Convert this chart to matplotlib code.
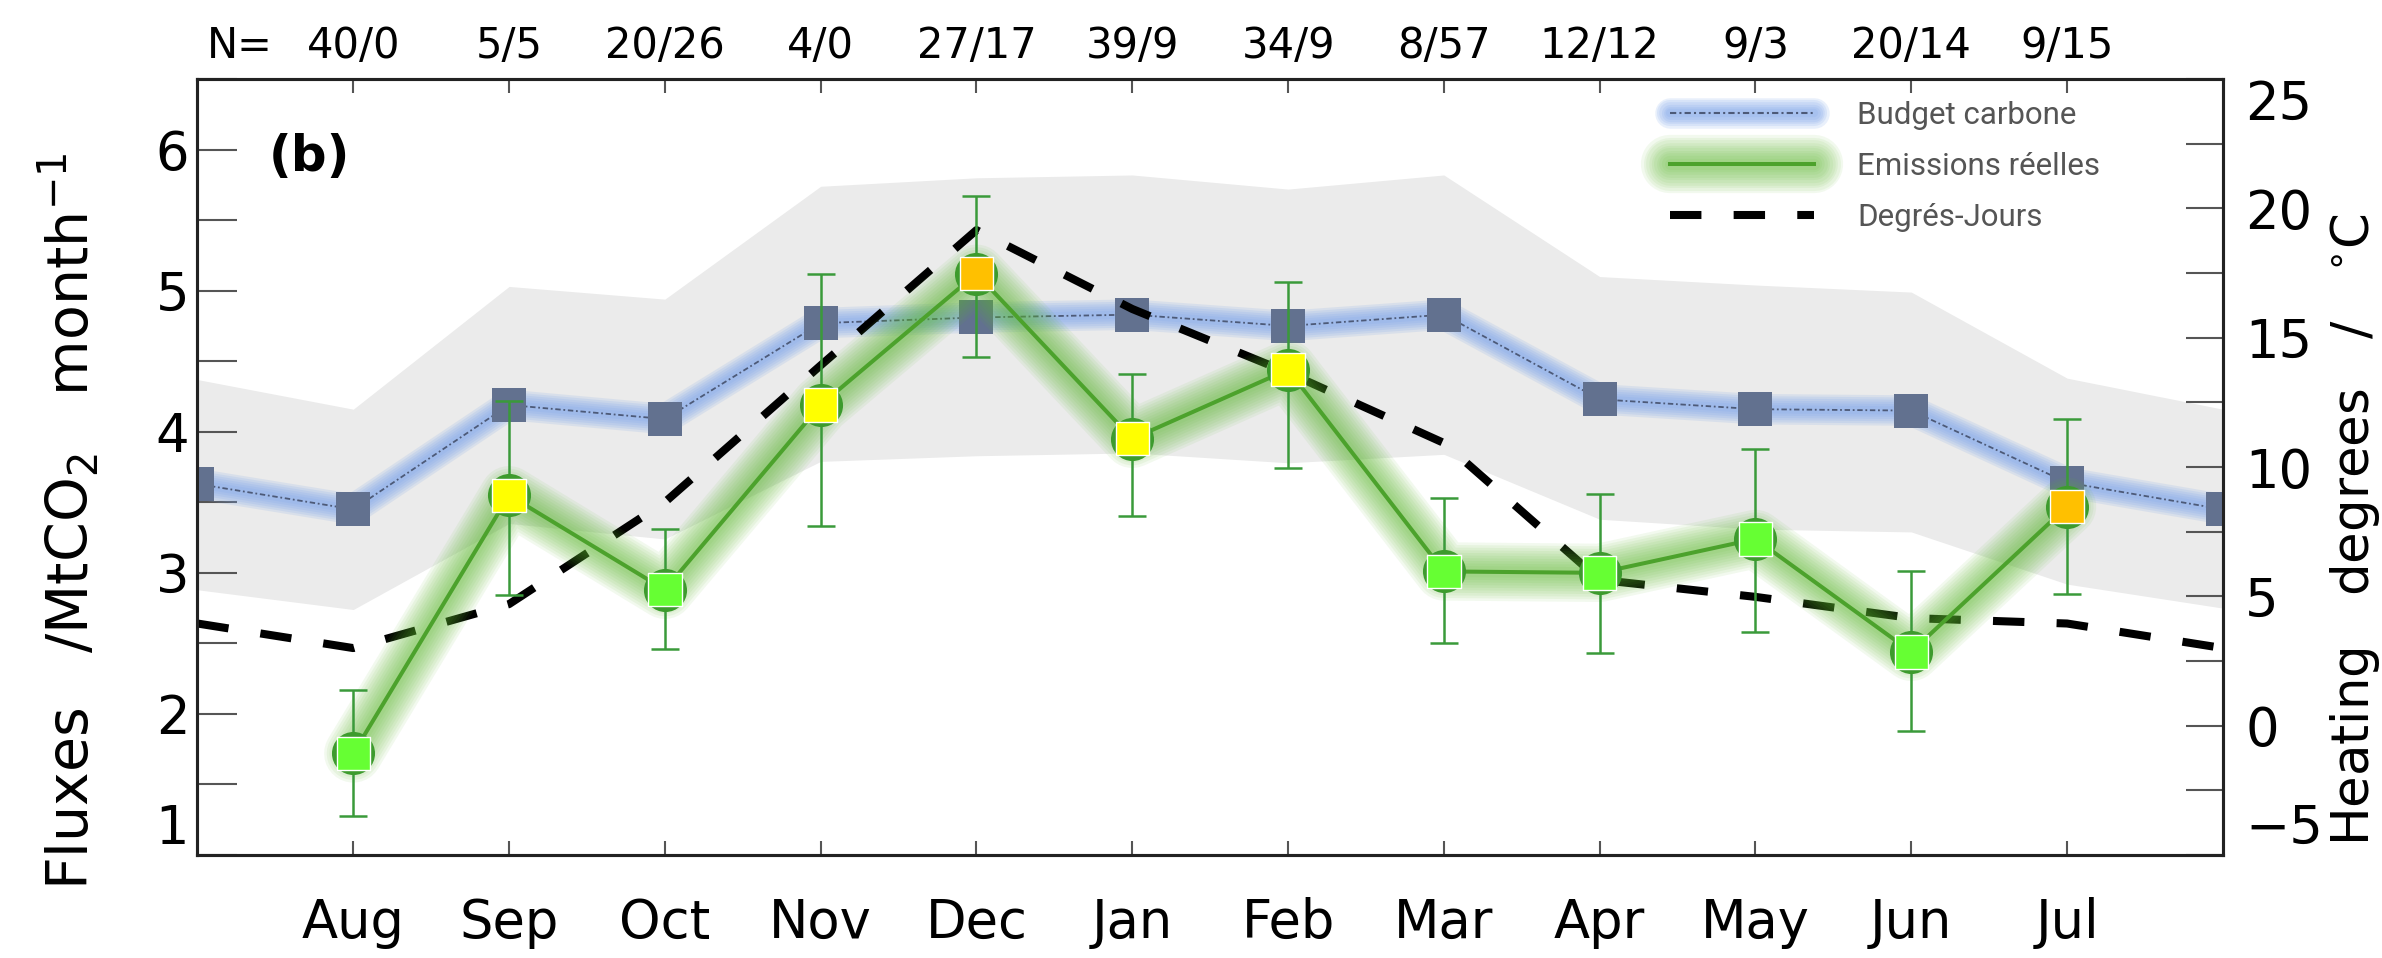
import numpy as np
import matplotlib
matplotlib.use("Agg")
import matplotlib.pyplot as plt
import matplotlib.transforms as mtransforms
from matplotlib.lines import Line2D
from matplotlib.legend_handler import HandlerTuple
from matplotlib.ticker import MultipleLocator

# -----------------------------
# Data
# -----------------------------
months = ["Aug", "Sep", "Oct", "Nov", "Dec", "Jan", "Feb", "Mar", "Apr", "May", "Jun", "Jul"]
n_counts = ["40/0", "5/5", "20/26", "4/0", "27/17", "39/9", "34/9", "8/57", "12/12", "9/3", "20/14", "9/15"]

# budget / band / degree-days include the wrap-around months at both ends (Jul, Aug..Jul, Aug)
budget = [3.63, 3.45, 4.19, 4.09, 4.77, 4.81, 4.83, 4.75, 4.83, 4.23, 4.16, 4.15, 3.64, 3.45]
budget_hi = [4.37, 4.16, 5.03, 4.94, 5.74, 5.80, 5.82, 5.72, 5.82, 5.10, 5.04, 4.99, 4.38, 4.16]
budget_lo = [2.88, 2.74, 3.35, 3.24, 3.79, 3.83, 3.85, 3.78, 3.84, 3.38, 3.31, 3.29, 2.92, 2.75]
degree_days = [3.95, 3.0, 4.7, 8.64, 13.93, 19.16, 16.11, 13.65, 10.93, 5.64, 4.98, 4.16, 3.95, 3.0]

emissions = [1.72, 3.55, 2.88, 4.19, 5.12, 3.95, 4.44, 3.01, 3.00, 3.24, 2.44, 3.47]
emis_hi = [2.17, 4.22, 3.31, 5.12, 5.67, 4.41, 5.06, 3.53, 3.56, 3.88, 3.01, 4.09]
emis_lo = [1.28, 2.84, 2.46, 3.33, 4.53, 3.40, 3.74, 2.50, 2.43, 2.58, 1.88, 2.85]
square_colors = ["#66ff33", "#ffff00", "#66ff33", "#ffff00", "#ffc000", "#ffff00",
                 "#ffff00", "#66ff33", "#66ff33", "#66ff33", "#66ff33", "#ffc000"]

BLUE_GLOW = "#7aa3ea"
GREEN_GLOW = "#5cb82e"
GREEN_LINE = "#4ca22c"
DD_DASH = (3.9, 4.0)
BLUE_W, BLUE_A = np.linspace(22, 6, 6), 0.16
GREEN_W, GREEN_A = np.linspace(42, 8, 10), 0.08


def glow_lines(widths, alpha, color):
    return [Line2D([], [], color=color, lw=w, alpha=alpha,
                   solid_capstyle="round", solid_joinstyle="round")
            for w in widths]


def draw_glow(ax, x, y, widths, alpha, color, z):
    for w in widths:
        ax.plot(x, y, color=color, lw=w, alpha=alpha, solid_capstyle="round",
                solid_joinstyle="round", zorder=z)


x_full = np.arange(len(budget))
x_m = np.arange(1, len(months) + 1)
emissions = np.array(emissions)
yerr = [emissions - np.array(emis_lo), np.array(emis_hi) - emissions]

fig = plt.figure(figsize=(23.82, 9.58), dpi=100)
ax = fig.add_axes([0.0829, 0.1075, 0.8503, 0.81])
ax2 = ax.twinx()

# gray uncertainty band
ax.fill_between(x_full, budget_lo, budget_hi, color="#ebebeb", lw=0, zorder=1)

# budget carbone
draw_glow(ax, x_full, budget, BLUE_W, BLUE_A, BLUE_GLOW, 2)
ax.plot(x_full, budget, color="#4d5a78", lw=1.3, ls=(0, (3, 1.5, 1, 1.5)), zorder=3)
ax.plot(x_full, budget, ls="none", marker="s", ms=24, color="#62718f", mew=0, zorder=4)

# degree days on the right-hand scale
dd_trans = mtransforms.blended_transform_factory(ax.transData, ax2.transData)
ax.plot(x_full, degree_days, color="black", lw=5.8, dashes=DD_DASH,
        dash_capstyle="butt", transform=dd_trans, zorder=5)

# emissions
draw_glow(ax, x_m, emissions, GREEN_W, GREEN_A, GREEN_GLOW, 6)
ax.plot(x_m, emissions, color=GREEN_LINE, lw=2.9, zorder=7)
ax.errorbar(x_m, emissions, yerr=yerr, fmt="none", ecolor="#3a9a3a",
            elinewidth=1.8, capsize=10, capthick=1.8, zorder=8)
ax.plot(x_m, emissions, ls="none", marker="o", ms=31, color="#3d9b2d", mew=0, zorder=9)
ax.scatter(x_m, emissions, marker="s", s=24 ** 2, c=square_colors,
           edgecolors="white", linewidths=1.0, zorder=10)

# axes ranges / ticks
ax.set_xlim(0, 13)
ax.set_ylim(1, 6.5)
ax2.set_ylim(-5, 25)
ax.set_xticks(x_m)
ax.set_xticklabels(months)
ax.set_yticks([1, 2, 3, 4, 5, 6])
ax.yaxis.set_minor_locator(MultipleLocator(0.5))
ax2.set_yticks([-5, 0, 5, 10, 15, 20, 25])
ax2.yaxis.set_minor_locator(MultipleLocator(2.5))

ax.tick_params(axis="y", which="both", direction="in", length=29, width=1.5,
               color="#555555", left=True, right=False, labelsize=38, pad=6)
ax.tick_params(axis="x", which="both", direction="in", length=10, width=1.5,
               color="#555555", top=True, bottom=True, labelsize=38, pad=30)
ax2.tick_params(axis="y", which="both", direction="in", length=27, width=1.5,
                color="#555555", labelsize=38, pad=16)

ax.get_yticklabels()[0].set_va("bottom")
ax2.get_yticklabels()[0].set_va("bottom")
ax2.get_yticklabels()[-1].set_va("top")

for a in (ax, ax2):
    for sp in a.spines.values():
        sp.set_linewidth(2.2)
        sp.set_color("#222222")

ax.set_ylabel("Fluxes   /MtCO$_2$   month$^{-1}$", fontsize=41)
ax.yaxis.label.set_va("center")
ax.yaxis.set_label_coords(-0.064, 0.43)
ax2.set_ylabel("Heating   degrees   /   $^{\\circ}$C", fontsize=37)
ax2.yaxis.label.set_va("center")
ax2.yaxis.set_label_coords(1.065, 0.42)

# sample sizes above the top axis
for xm, n in zip(x_m, n_counts):
    ax.annotate(n, xy=(xm, 1), xycoords=("data", "axes fraction"),
                xytext=(0, 15), textcoords="offset points",
                ha="center", va="baseline", fontsize=30)
ax.annotate("N=", xy=(x_m[0], 1), xycoords=("data", "axes fraction"),
            xytext=(-58, 15), textcoords="offset points",
            ha="right", va="baseline", fontsize=30)

ax.text(0.0555, 0.9, "(b)", transform=ax.transAxes, fontsize=36,
        fontweight="bold", ha="center", va="center")

# legend
h_budget = tuple(glow_lines(BLUE_W, BLUE_A, BLUE_GLOW)
                 + [Line2D([], [], color="#4d5a78", lw=1.5, ls=(0, (3, 1.5, 1, 1.5)))])
h_emis = tuple(glow_lines(GREEN_W, GREEN_A, GREEN_GLOW)
               + [Line2D([], [], color=GREEN_LINE, lw=2.9)])
h_dd = Line2D([], [], color="black", lw=5.8, dashes=DD_DASH, dash_capstyle="butt")

leg = ax.legend([h_budget, h_emis, h_dd],
                ["Budget carbone", "Emissions réelles", "Degrés-Jours"],
                handler_map={tuple: HandlerTuple(ndivide=1, pad=0)},
                loc="upper left", bbox_to_anchor=(0.727, 0.972),
                frameon=False, prop={"family": "Roboto", "size": 22.5},
                handlelength=4.6, handletextpad=1.4, labelspacing=0.7,
                borderpad=0, borderaxespad=0)
for t in leg.get_texts():
    t.set_color("#555555")
leg.set_zorder(20)

fig.savefig("out.png", dpi=100)
